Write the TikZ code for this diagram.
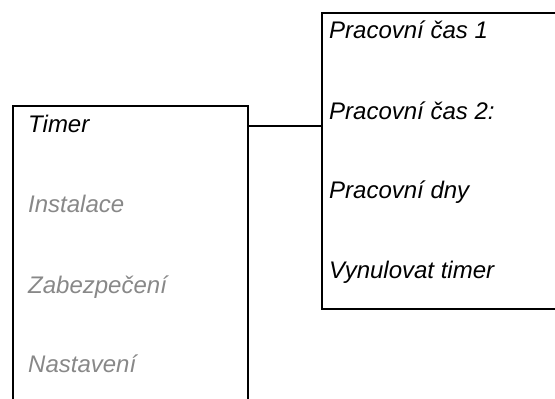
\documentclass[tikz,border=0pt]{standalone}
\usepackage{fontspec}
\setmainfont{Liberation Sans}
\definecolor{dimtext}{RGB}{136,136,136}
\begin{document}
\begin{tikzpicture}[x=1pt,y=-1pt,
  menubox/.style={draw=black,line width=1.9pt,rectangle,inner sep=0pt},
  item/.style={anchor=base west,inner sep=0pt,font=\fontsize{24}{28}\selectfont\itshape},
  active/.style={item,text=black},
  inactive/.style={item,text=dimtext},
  link/.style={draw=black,line width=1.9pt}]
\useasboundingbox (0,0) rectangle (555,399);
\node[menubox,minimum width=235pt,minimum height=314pt] (lbox) at (130.5,263) {};
\node[menubox,minimum width=258pt,minimum height=296pt] (rbox) at (451,161) {};
\node[active] (timer) at (28,132) {Timer};
\node[inactive] (inst) at (28,212.5) {Instalace};
\node[inactive] (zab) at (28,293) {Zabezpečení};
\node[inactive] (nast) at (28,372) {Nastavení};
\node[active] (p1) at (329,38) {Pracovní čas 1};
\node[active] (p2) at (329,119) {Pracovní čas 2:};
\node[active] (pd) at (329,198) {Pracovní dny};
\node[active] (vt) at (329,278) {Vynulovat timer};
\coordinate (c) at (285,126);
\draw[link] (lbox.east |- c) -- (rbox.west |- c);
\end{tikzpicture}
\end{document}
